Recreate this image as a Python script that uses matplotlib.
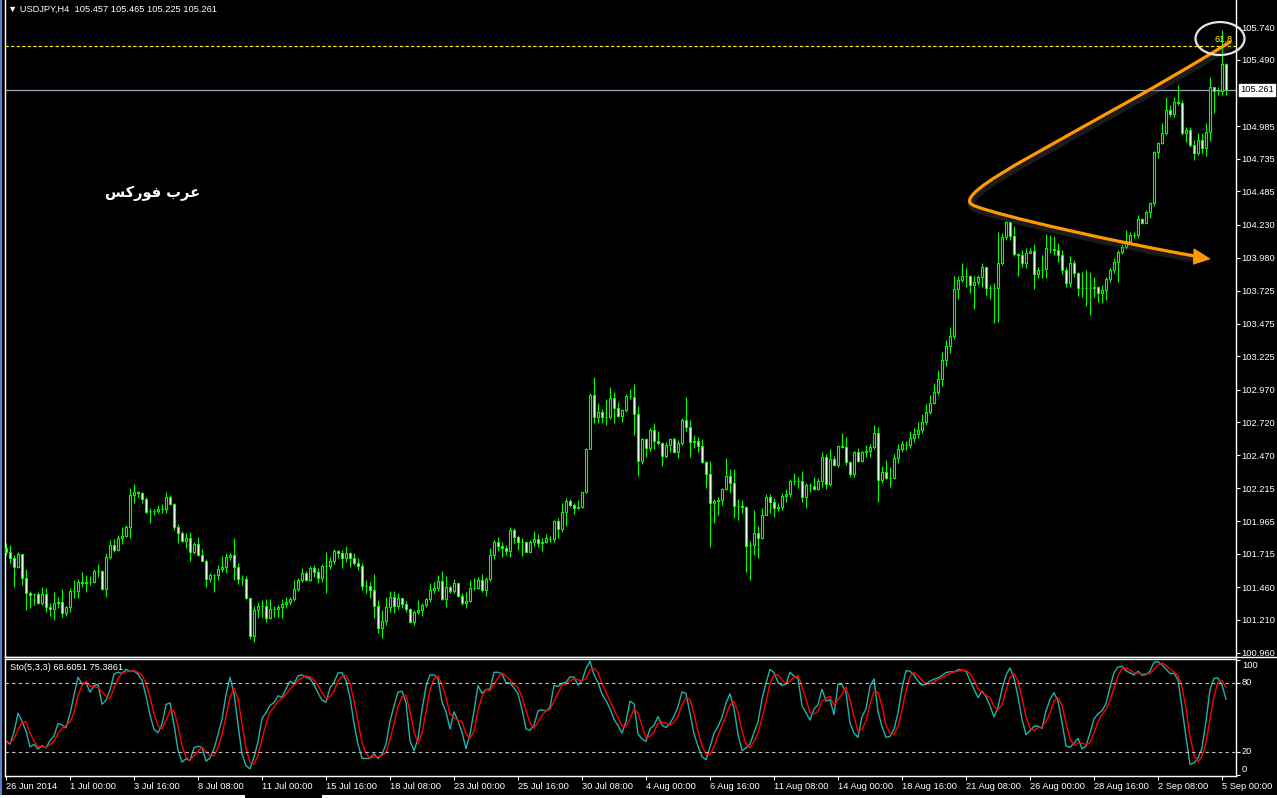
import numpy as np
import pandas as pd
import matplotlib
matplotlib.use("Agg")
import matplotlib.pyplot as plt
from matplotlib.patches import Rectangle, Ellipse, Polygon, PathPatch
from matplotlib.path import Path
import matplotlib.patheffects as pe

plt.rcParams["font.family"] = ["Liberation Sans", "DejaVu Sans"]

# ---- data: USDJPY H4, 26 Jun 2014 08:00 -> 5 Sep 2014 04:00 ----
header = "\u25BC USDJPY,H4  105.457 105.465 105.225 105.261"
sto_label = "Sto(5,3,3) 68.6051 75.3861"
first_open = 101.757

closes = [
    101.732, 101.681, 101.612, 101.714, 101.528, 101.413, 101.403, 101.408, 101.342, 101.408,
    101.311, 101.296, 101.337, 101.347, 101.265, 101.311, 101.431, 101.434, 101.500, 101.490,
    101.497, 101.500, 101.586, 101.586, 101.449, 101.688, 101.783, 101.744, 101.834, 101.851,
    101.923, 102.165, 102.188, 102.178, 102.132, 102.037, 102.040, 102.043, 102.058, 102.055,
    102.152, 102.094, 101.923, 101.877, 101.816, 101.834, 101.727, 101.790, 101.706, 101.663,
    101.520, 101.553, 101.553, 101.599, 101.612, 101.688, 101.704, 101.617, 101.523, 101.523,
    101.375, 101.090, 101.286, 101.316, 101.319, 101.222, 101.291, 101.291, 101.311, 101.332,
    101.350, 101.367, 101.444, 101.515, 101.571, 101.515, 101.604, 101.576, 101.527, 101.622,
    101.624, 101.660, 101.736, 101.724, 101.680, 101.719, 101.680, 101.642, 101.624, 101.471,
    101.469, 101.438, 101.319, 101.145, 101.201, 101.306, 101.387, 101.319, 101.375, 101.329,
    101.293, 101.196, 101.268, 101.283, 101.324, 101.370, 101.438, 101.451, 101.507, 101.367,
    101.459, 101.433, 101.489, 101.395, 101.336, 101.354, 101.456, 101.456, 101.515, 101.438,
    101.520, 101.706, 101.803, 101.775, 101.762, 101.739, 101.897, 101.846, 101.808, 101.808,
    101.731, 101.803, 101.826, 101.795, 101.808, 101.833, 101.828, 101.966, 101.905, 102.032,
    102.119, 102.088, 102.063, 102.070, 102.185, 102.516, 102.929, 102.763, 102.802, 102.763,
    102.763, 102.903, 102.827, 102.771, 102.814, 102.921, 102.916, 102.781, 102.427, 102.593,
    102.521, 102.661, 102.580, 102.565, 102.465, 102.547, 102.593, 102.496, 102.559, 102.738,
    102.687, 102.572, 102.580, 102.542, 102.419, 102.322, 102.106, 102.119, 102.126, 102.210,
    102.310, 102.259, 102.083, 102.080, 102.070, 101.777, 101.782, 101.872, 101.838, 102.012,
    102.152, 102.114, 102.063, 102.076, 102.157, 102.173, 102.272, 102.272, 102.272, 102.152,
    102.239, 102.236, 102.208, 102.272, 102.458, 102.246, 102.440, 102.397, 102.540, 102.534,
    102.420, 102.323, 102.491, 102.428, 102.491, 102.501, 102.534, 102.636, 102.280, 102.338,
    102.297, 102.292, 102.445, 102.514, 102.552, 102.547, 102.600, 102.630, 102.660, 102.720,
    102.800, 102.870, 102.950, 103.050, 103.200, 103.300, 103.380, 103.737, 103.809, 103.842,
    103.839, 103.770, 103.796, 103.829, 103.905, 103.745, 103.745, 103.750, 103.936, 104.140,
    104.249, 104.147, 104.005, 103.999, 103.941, 104.012, 104.030, 103.852, 103.885, 103.890,
    104.051, 104.046, 104.038, 103.999, 103.885, 103.783, 103.936, 103.860, 103.745, 103.745,
    103.745, 103.745, 103.758, 103.707, 103.732, 103.814, 103.885, 103.944, 104.020, 104.063,
    104.109, 104.153, 104.153, 104.272, 104.247, 104.331, 104.395, 104.790, 104.853, 104.930,
    105.108, 105.075, 105.172, 105.159, 104.930, 104.955, 104.841, 104.777, 104.879, 104.820,
    104.942, 105.286, 105.256, 105.253, 105.457, 105.261,
]
highs = [
    101.795, 101.783, 101.706, 101.732, 101.711, 101.599, 101.431, 101.418, 101.421, 101.459,
    101.451, 101.337, 101.426, 101.388, 101.444, 101.319, 101.451, 101.515, 101.523, 101.574,
    101.553, 101.546, 101.599, 101.635, 101.592, 101.719, 101.821, 101.826, 101.859, 101.918,
    101.936, 102.216, 102.249, 102.198, 102.185, 102.152, 102.063, 102.060, 102.088, 102.096,
    102.188, 102.165, 102.101, 101.941, 101.890, 101.877, 101.880, 101.808, 101.841, 101.750,
    101.673, 101.566, 101.561, 101.630, 101.699, 101.719, 101.719, 101.834, 101.643, 101.553,
    101.546, 101.380, 101.316, 101.350, 101.362, 101.367, 101.367, 101.316, 101.324, 101.367,
    101.388, 101.388, 101.515, 101.528, 101.604, 101.587, 101.622, 101.629, 101.604, 101.637,
    101.731, 101.693, 101.752, 101.744, 101.744, 101.775, 101.731, 101.719, 101.680, 101.647,
    101.515, 101.497, 101.561, 101.362, 101.285, 101.387, 101.431, 101.431, 101.413, 101.380,
    101.354, 101.298, 101.285, 101.362, 101.336, 101.375, 101.489, 101.497, 101.553, 101.584,
    101.545, 101.477, 101.520, 101.494, 101.413, 101.426, 101.515, 101.527, 101.535, 101.561,
    101.535, 101.757, 101.821, 101.841, 101.808, 101.782, 101.920, 101.910, 101.859, 101.833,
    101.800, 101.821, 101.889, 101.866, 101.833, 101.864, 101.851, 101.973, 101.986, 102.106,
    102.139, 102.131, 102.106, 102.126, 102.190, 102.521, 102.942, 103.064, 102.865, 102.819,
    102.896, 102.988, 102.949, 102.878, 102.822, 102.937, 102.972, 103.013, 102.845, 102.598,
    102.598, 102.674, 102.717, 102.654, 102.572, 102.572, 102.603, 102.610, 102.585, 102.751,
    102.916, 102.738, 102.623, 102.605, 102.593, 102.424, 102.424, 102.131, 102.152, 102.215,
    102.450, 102.363, 102.363, 102.131, 102.126, 102.080, 101.813, 102.050, 101.928, 102.063,
    102.170, 102.170, 102.145, 102.101, 102.183, 102.208, 102.285, 102.336, 102.300, 102.348,
    102.254, 102.254, 102.305, 102.297, 102.496, 102.478, 102.517, 102.463, 102.547, 102.641,
    102.611, 102.425, 102.504, 102.522, 102.504, 102.547, 102.552, 102.700, 102.687, 102.387,
    102.432, 102.382, 102.478, 102.555, 102.578, 102.578, 102.650, 102.680, 102.720, 102.780,
    102.860, 102.930, 103.020, 103.120, 103.260, 103.350, 103.450, 103.839, 103.839, 103.941,
    103.898, 103.847, 103.839, 103.847, 103.941, 103.911, 103.770, 103.783, 104.178, 104.165,
    104.260, 104.229, 104.224, 104.012, 104.038, 104.051, 104.051, 104.081, 103.911, 103.999,
    104.158, 104.153, 104.145, 104.089, 104.038, 103.911, 103.992, 103.961, 103.872, 103.872,
    103.885, 103.872, 103.834, 103.763, 103.770, 103.834, 103.903, 103.974, 104.038, 104.081,
    104.191, 104.176, 104.178, 104.305, 104.280, 104.344, 104.402, 104.797, 104.866, 105.006,
    105.205, 105.146, 105.210, 105.299, 105.184, 104.981, 104.981, 104.879, 104.935, 104.930,
    105.006, 105.363, 105.286, 105.280, 105.720, 105.465,
]
lows = [
    101.706, 101.643, 101.464, 101.609, 101.477, 101.286, 101.304, 101.324, 101.332, 101.324,
    101.273, 101.243, 101.209, 101.304, 101.235, 101.243, 101.273, 101.375, 101.375, 101.464,
    101.426, 101.477, 101.490, 101.536, 101.439, 101.388, 101.673, 101.732, 101.737, 101.790,
    101.841, 101.839, 102.101, 102.152, 102.101, 102.030, 101.953, 102.015, 102.025, 102.025,
    102.030, 102.088, 101.897, 101.801, 101.803, 101.762, 101.663, 101.711, 101.701, 101.660,
    101.464, 101.497, 101.426, 101.515, 101.579, 101.571, 101.668, 101.515, 101.485, 101.477,
    101.367, 101.062, 101.044, 101.222, 101.230, 101.197, 101.217, 101.235, 101.235, 101.227,
    101.299, 101.324, 101.357, 101.434, 101.502, 101.508, 101.510, 101.540, 101.489, 101.502,
    101.413, 101.596, 101.635, 101.680, 101.609, 101.655, 101.617, 101.629, 101.591, 101.438,
    101.418, 101.380, 101.227, 101.107, 101.069, 101.171, 101.273, 101.260, 101.291, 101.298,
    101.273, 101.189, 101.171, 101.255, 101.242, 101.311, 101.349, 101.418, 101.433, 101.362,
    101.311, 101.413, 101.418, 101.387, 101.324, 101.298, 101.349, 101.438, 101.443, 101.426,
    101.395, 101.510, 101.675, 101.739, 101.688, 101.706, 101.693, 101.800, 101.744, 101.698,
    101.726, 101.726, 101.777, 101.764, 101.736, 101.800, 101.803, 101.808, 101.838, 101.884,
    101.930, 102.075, 102.017, 102.055, 102.068, 102.182, 102.514, 102.717, 102.717, 102.717,
    102.700, 102.745, 102.712, 102.758, 102.725, 102.802, 102.896, 102.623, 102.310, 102.401,
    102.452, 102.503, 102.514, 102.547, 102.389, 102.445, 102.496, 102.488, 102.445, 102.547,
    102.656, 102.458, 102.521, 102.496, 102.412, 102.221, 101.764, 101.953, 102.012, 102.088,
    102.203, 102.182, 101.991, 101.973, 102.024, 101.578, 101.515, 101.706, 101.686, 101.829,
    102.050, 102.030, 101.999, 102.045, 102.050, 102.114, 102.147, 102.241, 102.216, 102.114,
    102.068, 102.190, 102.203, 102.203, 102.229, 102.211, 102.234, 102.387, 102.376, 102.522,
    102.394, 102.305, 102.305, 102.420, 102.420, 102.458, 102.458, 102.514, 102.114, 102.259,
    102.285, 102.229, 102.285, 102.407, 102.496, 102.509, 102.520, 102.570, 102.600, 102.640,
    102.700, 102.780, 102.860, 102.930, 103.000, 103.150, 103.250, 103.360, 103.661, 103.796,
    103.758, 103.712, 103.584, 103.770, 103.758, 103.694, 103.661, 103.482, 103.490, 103.923,
    104.114, 104.114, 103.992, 103.839, 103.911, 103.903, 104.012, 103.737, 103.821, 103.821,
    103.821, 104.012, 103.999, 103.949, 103.854, 103.758, 103.758, 103.829, 103.686, 103.681,
    103.610, 103.541, 103.676, 103.643, 103.630, 103.656, 103.796, 103.860, 103.796, 104.007,
    104.043, 104.102, 104.127, 104.127, 104.237, 104.242, 104.280, 104.377, 104.739, 104.848,
    104.917, 105.057, 105.057, 105.146, 104.917, 104.866, 104.828, 104.726, 104.764, 104.777,
    104.756, 104.874, 105.083, 105.220, 105.223, 105.225,
]

price_ticks = [105.740, 105.490, 104.985, 104.735, 104.485, 104.230, 103.980, 103.725,
               103.475, 103.225, 102.970, 102.720, 102.470, 102.215, 101.965, 101.715,
               101.460, 101.210, 100.960]
last_price = 105.261
fib_level = 105.597
fib_label = "61.8"
time_labels = ["26 Jun 2014", "1 Jul 00:00", "3 Jul 16:00", "8 Jul 08:00", "11 Jul 00:00",
               "15 Jul 16:00", "18 Jul 08:00", "23 Jul 00:00", "25 Jul 16:00", "30 Jul 08:00",
               "4 Aug 00:00", "6 Aug 16:00", "11 Aug 08:00", "14 Aug 00:00", "18 Aug 16:00",
               "21 Aug 08:00", "26 Aug 00:00", "28 Aug 16:00", "2 Sep 08:00", "5 Sep 00:00"]
sto_ticks = [100, 80, 20, 0]
arabic_label = "عرب فوركس"

GREEN = "#00FF00"
ORANGE = "#FF9A00"
FS = 6.7

df = pd.DataFrame({"o": [first_open] + closes[:-1], "h": highs, "l": lows, "c": closes})
df["h"] = df[["o", "h", "c"]].max(axis=1)
df["l"] = df[["o", "l", "c"]].min(axis=1)

# Stochastic 5,3,3
ll = df["l"].rolling(5, min_periods=1).min()
hh = df["h"].rolling(5, min_periods=1).max()
k_line = 100 * (df["c"] - ll).rolling(3, min_periods=1).sum() / (hh - ll).rolling(3, min_periods=1).sum()
d_line = k_line.rolling(3, min_periods=1).mean()


def shape_arabic(text):
    # minimal contextual shaping + visual reordering for the label
    forms = {
        "ع": (0xFEC9, 0xFECA, 0xFECB, 0xFECC),
        "ب": (0xFE8F, 0xFE90, 0xFE91, 0xFE92),
        "ف": (0xFED1, 0xFED2, 0xFED3, 0xFED4),
        "ك": (0xFED9, 0xFEDA, 0xFEDB, 0xFEDC),
        "س": (0xFEB1, 0xFEB2, 0xFEB3, 0xFEB4),
        "ر": (0xFEAD, 0xFEAE, None, None),
        "و": (0xFEED, 0xFEEE, None, None),
    }
    out = []
    for j, ch in enumerate(text):
        if ch not in forms:
            out.append(ch)
            continue
        prev = text[j - 1] if j > 0 else " "
        nxt = text[j + 1] if j + 1 < len(text) else " "
        jp = prev in forms and forms[prev][2] is not None
        jn = nxt in forms and forms[ch][2] is not None
        idx = 3 if (jp and jn) else 1 if jp else 2 if jn else 0
        out.append(chr(forms[ch][idx]))
    return "".join(reversed(out))


W, H = 1277, 798
fig = plt.figure(figsize=(W / 100, H / 100), dpi=100, facecolor="black")
ax = fig.add_axes([5 / W, 1 - 657 / H, 1231 / W, 657 / H], facecolor="black")
ax2 = fig.add_axes([5 / W, 1 - 776 / H, 1231 / W, 117 / H], facecolor="black")

# candles
x = np.arange(len(df))
ax.vlines(x, df["l"], df["h"], color=GREEN, lw=0.8, zorder=2)
for i, r in df.iterrows():
    lo, hi = min(r.o, r.c), max(r.o, r.c)
    if hi - lo < 0.006:
        ax.hlines((lo + hi) / 2, i - 0.35, i + 0.35, color=GREEN, lw=0.9, zorder=3)
    else:
        fc = "black" if r.c > r.o else "white"
        ax.add_patch(Rectangle((i - 0.28, lo), 0.56, hi - lo, fc=fc, ec=GREEN, lw=0.8, zorder=3))

ax.set_xlim(-0.25, 307.5)
ax.set_ylim(100.9258, 105.9487)
ax.axhline(last_price, color="#9AA6B8", lw=0.9, zorder=1)
ax.axhline(fib_level, color="#FFFF00", lw=0.8, ls=(0, (3, 2)), zorder=1)
ax.text(306.6, fib_level + 0.012, fib_label, color="#FFFF00", fontsize=FS, ha="right", va="bottom")

ax.yaxis.tick_right()
ax.set_yticks(price_ticks)
ax.set_yticklabels([f"{v:.3f}" for v in price_ticks])
ax.set_xticks([])
ax.tick_params(axis="y", colors="white", labelcolor="white", length=3, width=0.8, labelsize=FS, pad=1)
for s in ["left", "right", "bottom"]:
    ax.spines[s].set_color("white")
    ax.spines[s].set_linewidth(1)
ax.spines["top"].set_visible(False)

# last price marker on the scale
ax.annotate(f"{last_price:.3f}", xy=(1, last_price), xycoords=("axes fraction", "data"),
            xytext=(3, 0), textcoords="offset points", color="black", fontsize=FS,
            va="center", ha="left", annotation_clip=False,
            bbox=dict(boxstyle="square,pad=0.15", fc="white", ec="white"))

# orange hand-drawn arrow (candle index, price)
arrow_pts = [(306.0, 105.628), (268.5, 104.917), (233.5, 104.458), (242.25, 104.374),
             (248.5, 104.297), (278.5, 104.091), (297.25, 103.991)]
codes = [Path.MOVETO, Path.CURVE4, Path.CURVE4, Path.CURVE4, Path.CURVE4, Path.CURVE4, Path.CURVE4]
shadow = [pe.SimpleLineShadow(offset=(1, -2.5), shadow_color="#505050", alpha=0.35, linewidth=4.5), pe.Normal()]
ax.add_patch(PathPatch(Path(arrow_pts, codes), fill=False, ec=ORANGE, lw=2.3,
                       capstyle="round", zorder=6, path_effects=shadow))
ax.add_patch(Polygon([(301.0, 103.969), (297.0, 104.047), (296.8, 103.928)], closed=True,
                     fc=ORANGE, ec=ORANGE, lw=0.5, zorder=6))
ax.add_patch(Ellipse((303.5, 105.654), 12.25, 0.252, fill=False, ec="#E6E6E6", lw=1.6,
                     zorder=7, clip_on=False))

# stochastic panel
ax2.plot(x, k_line, color="#20B2AA", lw=1)
ax2.plot(x, d_line, color="#FF0000", lw=1)
for lvl in (80, 20):
    ax2.axhline(lvl, color="#C8C8C8", lw=0.8, ls=(0, (3, 3)))
ax2.set_xlim(-0.25, 307.5)
ax2.set_ylim(-1.1, 100.6)
ax2.yaxis.tick_right()
ax2.set_yticks(sto_ticks)
ax2.set_yticklabels([])
# scale labels are pushed inside the panel at the extremes, like the terminal does
label_shift = {100: -6, 80: 0, 20: 0, 0: 5}
for v in sto_ticks:
    ax2.annotate(str(v), xy=(1, v), xycoords=("axes fraction", "data"),
                 xytext=(6, label_shift[v]), textcoords="offset pixels", color="white",
                 fontsize=FS, va="center", ha="left", annotation_clip=False)
ax2.set_xticks(np.arange(len(time_labels)) * 16)
ax2.set_xticklabels(time_labels)
for lbl in ax2.get_xticklabels():
    lbl.set_horizontalalignment("left")
ax2.tick_params(axis="both", colors="white", labelcolor="white", length=3, width=0.8,
                labelsize=FS, pad=1.5)
for s in ax2.spines.values():
    s.set_color("white")
    s.set_linewidth(1)

# texts and frame
fig.text(8 / W, 1 - 9 / H, header, color="white", fontsize=FS, va="center", ha="left")
fig.text(10 / W, 1 - 667 / H, sto_label, color="white", fontsize=FS, va="center", ha="left")
fig.text(153 / W, 1 - 193 / H, shape_arabic(arabic_label), color="white", fontsize=10.5,
         fontweight="bold", family="DejaVu Sans", va="center", ha="center")
fig.add_artist(plt.Line2D([5 / W, 1], [1 - 657 / H] * 2, color="white", lw=1))
fig.add_artist(Rectangle((0, 0), 2 / W, 1, fc="#5A82C8", ec="none"))
fig.add_artist(Rectangle((0, 0), 245 / W, 3 / H, fc="white", ec="none"))
fig.add_artist(Rectangle((322 / W, 0), 1 - 322 / W, 3 / H, fc="white", ec="none"))

fig.savefig("out.png", dpi=100, facecolor="black")
plt.close(fig)
